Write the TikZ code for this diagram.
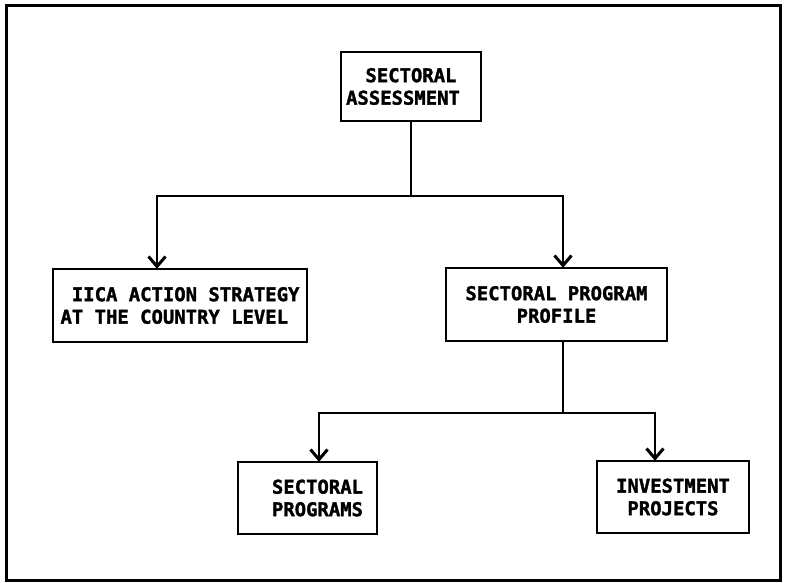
\documentclass[tikz,border=0pt]{standalone}
\usepackage{fontspec}
\setmonofont{DejaVu Sans Mono}[BoldFeatures={FakeBold=1.6}]
\usetikzlibrary{arrows.meta}
\begin{document}
\begin{tikzpicture}[x=1pt,y=-1pt,
  box/.style={draw, line width=2.4pt, rectangle, inner sep=0pt, align=center,
    font=\ttfamily\bfseries\fontsize{18.9}{22.5}\selectfont},
  link/.style={line width=2pt},
  arr/.style={link, -{Straight Barb[length=10pt,width=17pt,line width=3pt]}, shorten >=-1pt}]
  % page and frame
  \useasboundingbox (0,0) rectangle (787,582);
  \draw[line width=3pt] (6,5) rectangle (780,580);

  % boxes
  \node[box, minimum width=140pt, minimum height=69pt] (assess) at (411,86.5)
    {SECTORAL\\ASSESSMENT\hspace*{16pt}};
  \node[box, minimum width=254pt, minimum height=73pt, align=left] (iica) at (180,305.5)
    {\ IICA ACTION STRATEGY\\AT THE COUNTRY LEVEL};
  \node[box, minimum width=221pt, minimum height=73pt] (profile) at (556.5,304.5)
    {SECTORAL PROGRAM\\PROFILE};
  \node[box, minimum width=139pt, minimum height=72pt] (programs) at (307.5,498)
    {\hspace*{20pt}SECTORAL\\\hspace*{20pt}PROGRAMS};
  \node[box, minimum width=152pt, minimum height=72pt] (invest) at (673,497)
    {INVESTMENT\\PROJECTS};

  % branch points
  \coordinate (j1) at (411,196);
  \coordinate (j2) at (563,413);

  % connectors
  \draw[link] (assess.south) -- (j1);
  \draw[arr] (j1) -| ([xshift=-23pt]iica.north);
  \draw[arr] (j1) -| ([xshift=6.5pt]profile.north);
  \draw[link] ([xshift=6.5pt]profile.south) -- (j2);
  \draw[arr] (j2) -| ([xshift=11.5pt]programs.north);
  \draw[arr] (j2) -| ([xshift=-18pt]invest.north);
\end{tikzpicture}
\end{document}
